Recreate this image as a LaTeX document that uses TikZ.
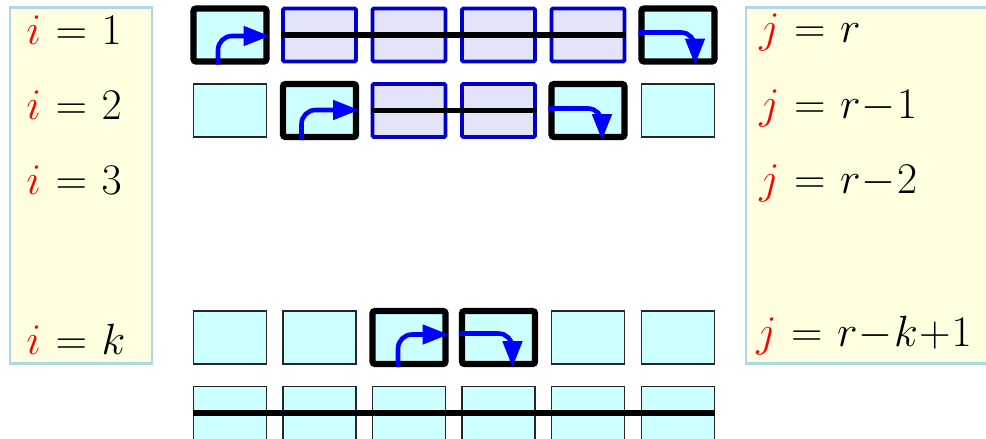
\documentclass[tikz,border=0pt]{standalone}
\usepackage{xcolor}
\usepackage{tikz}
\usepackage{amsmath}
\usetikzlibrary{arrows.meta, positioning}
\definecolor{panelfill}{HTML}{FFFFE0}
\definecolor{paneledge}{HTML}{ADD8E6}
\definecolor{cellcyan}{HTML}{CCFFFF}
\definecolor{celllav}{HTML}{E4E4F8}
\definecolor{cellblue}{HTML}{0000C8}
\definecolor{flowblue}{HTML}{0000FF}
\definecolor{idxred}{HTML}{FF0000}

\begin{document}
\begin{tikzpicture}[
  panel/.style={draw=paneledge, fill=panelfill, line width=1.6pt, minimum width=2.84cm, minimum height=7.12cm, inner sep=0},
  rpanel/.style={panel, minimum width=5.4cm},
  label/.style={anchor=base west, inner sep=0, font=\fontsize{27}{32}\selectfont},
  cell/.style={draw=black!85, fill=cellcyan, minimum width=1.46cm, minimum height=1.06cm, line width=1pt, inner sep=0},
  live/.style={cell, draw=black, line width=3.6pt, rounded corners=1.5pt},
  busy/.style={cell, draw=cellblue, fill=celllav, line width=2.2pt, rounded corners=0.8pt},
  bar/.style={line width=3.4pt},
  flow/.style={-{Triangle[length=0.52cm, width=0.38cm]}, line width=2.6pt, flowblue, rounded corners=8pt}
]
\clip (0,0) rectangle (19.72,-8.78);
\medmuskip=0.5mu
\thickmuskip=6mu

% index panels
\node[panel] (lp) at (1.62,-3.71) {};
\node[rpanel] (rp) at (17.62,-3.71) {};

\node[label] (i1) at (0.52,-0.90) {$\textcolor{idxred}{i} = 1$};
\node[label] (i2) at (0.52,-2.40) {$\textcolor{idxred}{i} = 2$};
\node[label] (i3) at (0.52,-3.90) {$\textcolor{idxred}{i} = 3$};
\node[label] (ik) at (0.52,-7.08) {$\textcolor{idxred}{i} = k$};

\node[label] (j1) at (15.18,-0.86) {$\textcolor{idxred}{j} = r$};
\node[label] (j2) at (15.18,-2.37) {$\textcolor{idxred}{j} = r-1$};
\node[label] (j3) at (15.18,-3.87) {$\textcolor{idxred}{j} = r-2$};
\node[label] (jk) at (15.12,-6.92) {$\textcolor{idxred}{j} = r-k+1$};

% row i=1
\node[live] (a1) at (4.60,-0.70) {};
\node[busy] (a2) at (6.39,-0.70) {};
\node[busy] (a3) at (8.18,-0.70) {};
\node[busy] (a4) at (9.97,-0.70) {};
\node[busy] (a5) at (11.76,-0.70) {};
\node[live] (a6) at (13.56,-0.70) {};

% row i=2
\node[cell] (b1) at (4.60,-2.21) {};
\node[live] (b2) at (6.39,-2.21) {};
\node[busy] (b3) at (8.18,-2.21) {};
\node[busy] (b4) at (9.97,-2.21) {};
\node[live] (b5) at (11.76,-2.21) {};
\node[cell] (b6) at (13.56,-2.21) {};

% row i=k
\node[cell] (k1) at (4.60,-6.75) {};
\node[cell] (k2) at (6.39,-6.75) {};
\node[live] (k3) at (8.18,-6.75) {};
\node[live] (k4) at (9.97,-6.75) {};
\node[cell] (k5) at (11.76,-6.75) {};
\node[cell] (k6) at (13.56,-6.75) {};

% last row
\node[cell] (z1) at (4.60,-8.26) {};
\node[cell] (z2) at (6.39,-8.26) {};
\node[cell] (z3) at (8.18,-8.26) {};
\node[cell] (z4) at (9.97,-8.26) {};
\node[cell] (z5) at (11.76,-8.26) {};
\node[cell] (z6) at (13.56,-8.26) {};

\draw[bar] (a2.west) -- (a5.east);
\draw[bar] (b3.west) -- (b4.east);
\draw[bar] (z1.west) -- (z6.east);

\draw[flow] ([xshift=-0.24cm]a1.south) |- ([yshift=-0.02cm]a1.east);
\draw[flow] ([yshift=0.05cm]a6.west) -| ([xshift=0.34cm]a6.south);
\draw[flow] ([xshift=-0.36cm]b2.south) |- ([yshift=0.01cm]b2.east);
\draw[flow] ([yshift=0.04cm]b5.west) -| ([xshift=0.28cm]b5.south);
\draw[flow] ([xshift=-0.22cm]k3.south) |- ([yshift=0.06cm]k3.east);
\draw[flow] ([yshift=0.08cm]k4.west) -| ([xshift=0.28cm]k4.south);
\end{tikzpicture}
\end{document}
